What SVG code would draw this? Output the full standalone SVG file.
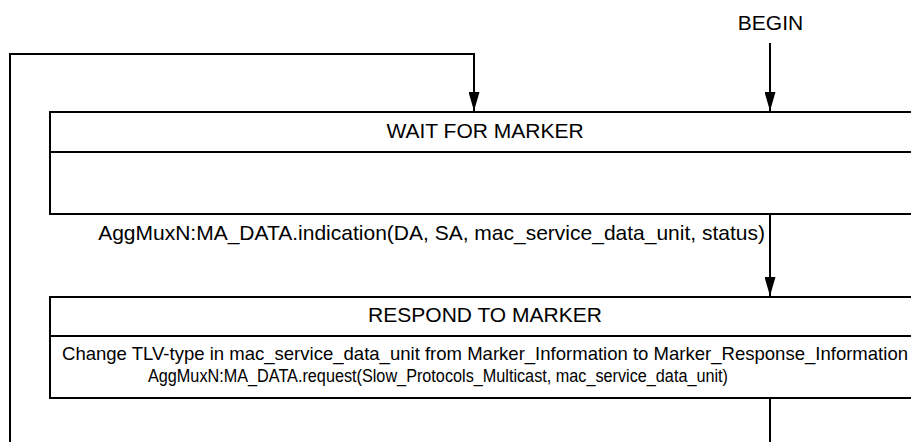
<svg xmlns="http://www.w3.org/2000/svg" width="911" height="442" viewBox="0 0 911 442">
  <style>
    .box { fill: #ffffff; stroke: #000000; stroke-width: 2; }
    .rule { stroke: #000000; stroke-width: 2; }
    .wire { fill: none; stroke: #000000; stroke-width: 2; marker-end: url(#arrow); }
    text { font-family: "Liberation Sans", Arial, sans-serif; fill: #000000; }
    .title { font-size: 21px; text-anchor: middle; }
    .label { font-size: 21px; }
    .body { font-size: 18.5px; }
    .body-sm { font-size: 17.5px; }
  </style>
  <defs>
    <marker id="arrow" markerUnits="userSpaceOnUse" markerWidth="19" markerHeight="11"
            viewBox="0 0 19 11" refX="19" refY="5.5" orient="auto">
      <path d="M0,0 L19,5.5 L0,11 Z" fill="#000000"/>
    </marker>
  </defs>

  <!-- entry label -->
  <text class="title" x="770.5" y="30">BEGIN</text>

  <!-- state: WAIT FOR MARKER -->
  <g id="wait-for-marker">
    <rect class="box" x="50" y="112" width="880" height="102"/>
    <line class="rule" x1="50" y1="152" x2="930" y2="152"/>
    <text class="title" x="485" y="138">WAIT FOR MARKER</text>
  </g>

  <!-- state: RESPOND TO MARKER -->
  <g id="respond-to-marker">
    <rect class="box" x="50" y="297" width="880" height="101"/>
    <line class="rule" x1="50" y1="336" x2="930" y2="336"/>
    <text class="title" x="485" y="322">RESPOND TO MARKER</text>
    <text class="body" x="62" y="360" textLength="846" lengthAdjust="spacingAndGlyphs">Change TLV-type in mac_service_data_unit from Marker_Information to Marker_Response_Information</text>
    <text class="body-sm" x="148" y="382" textLength="580" lengthAdjust="spacingAndGlyphs">AggMuxN:MA_DATA.request(Slow_Protocols_Multicast, mac_service_data_unit)</text>
  </g>

  <!-- transitions -->
  <g id="connectors">
    <line class="wire" x1="770" y1="43" x2="770" y2="111"/>
    <line class="wire" x1="770" y1="214" x2="770" y2="296"/>
    <path class="wire" d="M770,398 V470 H10 V54 H474 V111"/>
    <text class="label" x="765" y="240" text-anchor="end">AggMuxN:MA_DATA.indication(DA, SA, mac_service_data_unit, status)</text>
  </g>
</svg>
